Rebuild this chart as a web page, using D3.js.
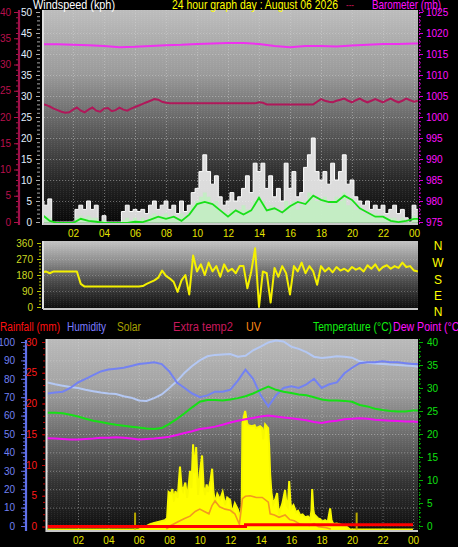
<!DOCTYPE html>
<html><head><meta charset="utf-8">
<script src="https://cdn.jsdelivr.net/npm/d3@7"></script>
<style>html,body{margin:0;padding:0;background:#000;overflow:hidden}</style>
</head><body>
<script>
// ---------------- DATA ----------------
const hourTicks = [2,4,6,8,10,12,14,16,18,20,22,24];
const hourLabels = ["02","04","06","08","10","12","14","16","18","20","22","00"];

// top chart, 15-minute samples starting at 00:00
const gust = [5,4,5.5,0, 0,0,0,0, 0,3,4,3, 5,3,4,0, 1.5,0,0,0, 0,2.5,4,2.5, 3,2.5,3,2, 4,5,3,4,
  5,3,4,2, 5,2.5,4,7, 8,12,16,12, 9,11,6,4, 5,7,5,6, 8,11,7,14, 12,14,8,11, 6,8,5,14,
  8,12,6,7, 13,16,20,12, 10,12,9,14, 10,12,16,9, 10,6,5,4, 5,3,4,3, 4,2,3,4, 2,3,1,0, 4,3];
const avgSpeed = [2,1.5,1,0, 0,0,0,0, 0,1,1.5,1, 1.5,1,1,0, 0.5,0,0,0, 0,0.5,1,0.5, 1,0.5,1,0.5,
  1.5,2,1,1.5, 2,1,1.5,0.5, 2,1,2,4, 5,6,7,6, 4,5,3,2, 2,3,2.5,3, 4,3,3,5, 6,5,3,4, 3,3,2,5,
  4,5,3,4, 5,7,6,5, 5,6,4,5, 6,5,7,4, 5,3,3,2, 2,1.5,2,1, 1.5,1,1,1, 0.5,1,0.5,0, 1.5,1];
// 30-minute samples
const avgLine = [2,0.5,0,0,0,1,0.5,0.3,0,0, 0,0,0.3,0.2,0.8,1.5,1,1.5,0.5,2,
  4.5,5,4.5,3,1.5,3,2,3,6,3, 3.5,2.5,4,5,4.5,6.5,5.5,5,5,6.5, 5.5,3.5,2.5,1.5,1.5,0.5,0.2,0.5,1,1];
// hourly barometer (mb)
const baro = [1017.3,1017.3,1017.2,1017.1,1016.9,1016.6,1016.7,1016.9,1017.1,1017.2,1017.4,1017.5,
  1017.6,1017.6,1017.4,1016.9,1016.6,1016.9,1016.9,1016.8,1017.0,1017.2,1017.4,1017.4,1017.5,1017.5];
// extra temp2 (°C), 15-minute samples
const extraTemp2 = [22.5,22.3,22.0,21.6, 21.3,21.0,20.8,20.9, 21.4,21.8,21.2,20.9, 21.4,21.8,21.2,21.0,
  21.6,21.7,21.1,21.3, 21.8,21.4,21.2,21.6, 21.9,22.2,22.5,22.8, 23.1,23.4,23.3,22.9,
  22.7,22.6,22.6,22.6, 22.6,22.6,22.6,22.6, 22.6,22.6,22.6,22.6, 22.6,22.6,22.6,22.6,
  22.6,22.6,22.6,22.6, 22.6,22.6,22.6,22.6, 22.8,22.7,22.4,22.4, 22.4,22.4,22.4,22.4,
  22.4,22.4,22.4,22.4, 22.4,22.4,22.4,22.9, 23.4,23.1,22.9,22.8, 23.1,23.3,23.5,23.1,
  22.8,23.2,23.5,23.1, 22.8,23.1,23.4,23.1, 22.8,23.2,23.5,23.1, 22.8,23.1,23.5,23.2, 22.9,23.1];
// wind direction (degrees), 15-minute samples
const windDir = [195,200,190,200, 200,200,200,200, 200,200,130,115, 115,115,115,115, 115,115,115,115,
  115,115,115,115, 115,115,118,130, 140,150,165,205, 175,160,140,85, 150,180,70,290,
  200,240,180,250, 200,230,170,240, 200,215,190,230, 230,105,200,330, 0,200,190,25,
  220,170,230,190, 70,230,200,250, 190,230,200,125, 230,200,220,195, 225,205,215,200,
  225,210,220,200, 235,215,240,205, 225,235,215,230, 220,250,225,230, 205,200];

// bottom chart, 30-minute samples
const humidity = [72,72.5,73,75,78,80,82,84,85,85.5, 86,87,88,88.5,89,88,84,78,75,72,
  70,71,73,73,74,79,85,80,71,65, 71,75,76,75,77,80,75,77,78,83, 86,88.5,89,89,89.5,89,89,88.5,88,88];
const indoorTemp = [31.2,30.8,30.5,30.2,30.0,29.6,29.3,29.0,28.8,28.7, 28.2,27.9,27.3,27.2,27.8,28.6,30.0,31.5,33.3,34.8,
  36.0,36.9,37.2,37.3,37.4,36.8,37.0,38.2,39.0,39.9, 40.3,40.1,39.0,38.5,37.8,36.8,36.5,36.7,36.9,36.8,
  36.6,35.8,35.5,35.3,35.2,35.1,35.0,34.9,34.8,34.5];
const temperature = [24.6,24.6,24.5,24.2,23.8,23.3,22.9,22.6,22.3,22.0, 21.8,21.6,21.4,21.2,21.1,21.3,22.2,23.3,24.5,25.8,
  27.0,27.4,27.4,27.3,27.5,27.8,28.2,28.8,29.6,30.3, 29.6,29.2,28.9,28.6,28.4,28.0,27.5,27.3,27.3,27.2,
  27.0,26.3,26.0,25.5,25.2,25.0,24.9,24.9,25.1,25.1];
const dewPoint = [19.1,19.0,18.9,18.8,18.8,18.9,19.0,19.2,19.2,19.3, 19.2,19.0,18.8,18.9,19.0,19.2,19.4,19.8,20.2,20.6,
  21.1,21.3,21.6,22.0,22.5,22.9,23.2,23.5,23.8,24.0, 23.8,23.6,23.4,23.2,23.0,22.6,22.4,22.7,22.9,23.2,
  23.3,23.4,23.3,23.1,23.0,22.9,22.8,22.7,22.7,22.6];
// hourly rainfall (mm)
const rainfall = [0,0,0,0,0,0,0,0,0,0,0,0,0,0.3,0.3,0.3,0.3,0.3,0.3,0.3,0.3,0.3,0.3,0.3,0.3];
// solar (W/m2) at irregular times
const solarHours = [0,6.0,6.3,6.7,7.0,7.4,7.7,7.85,7.95,8.1,8.2,8.3,8.4,8.55,8.7,8.8,8.9,9.05,9.17,9.3,9.36,9.45,9.56,9.65,9.76,9.85,9.89,
  10.0,10.15,10.25,10.35,10.45,10.55,10.7,10.81,10.9,11.0,11.15,11.33,11.5,11.66,11.8,11.99,12.12,12.3,12.52,12.65,12.75,
  12.8,12.98,13.1,13.17,13.44,13.6,13.7,13.96,14.1,14.16,14.29,14.49,14.55,14.62,14.7,14.82,14.95,15.08,15.15,15.21,15.3,
  15.41,15.5,15.6,15.7,15.78,15.87,15.95,16.0,16.15,16.33,16.45,16.59,16.75,16.92,17.1,17.25,17.33,17.38,17.45,17.51,
  17.65,17.77,17.9,18.04,18.23,18.4,18.56,18.65,18.76,19.0,19.22,19.61,19.87,24.0];
const solar = [0,0,10,27,35,43,49,60,200,190,216,150,205,170,335,230,205,250,168,260,313,220,454,300,440,250,184,
  300,395,230,184,240,200,260,324,200,140,190,160,200,130,170,157,86,140,103,60,120,
  567,632,570,556,551,556,540,551,540,481,560,540,450,297,200,135,160,194,120,76,110,
  135,170,211,130,120,259,150,113,130,92,100,76,80,65,70,54,100,216,110,81,
  70,59,55,43,50,40,113,50,30,32,27,16,0,0];
const solarMarkHours = [5.75, 20.3];
const solarMarks = [90, 90];
// UV index at irregular times
const uvHours = [7.8,8.1,8.7,9.0,9.36,9.7,10.0,10.3,10.6,10.8,11.0,11.3,11.66,12.0,12.3,12.6,12.8,13.0,13.3,13.7,14.1,
  14.5,14.62,14.9,15.2,15.6,15.9,16.2,16.6,17.2,17.5,17.8,18.3,18.6];
const uv = [0,0.3,0.7,0.9,1.1,1.5,1.7,1.5,1.3,2.0,2.4,1.9,1.7,1.6,1.3,0.4,2.6,2.8,2.85,2.7,2.7,
  2.3,1.3,1.2,1.0,1.2,0.8,0.7,0.4,0.3,0.45,0.2,0.1,0];

// ---------------- DRAWING ----------------
const W = 458, H = 547;
const FONT = "'Liberation Sans', Arial, sans-serif";
const svg = d3.select("body").append("svg").attr("width", W).attr("height", H)
  .style("display","block").style("background","#000").style("font-family", FONT);
svg.append("rect").attr("width",W).attr("height",H).attr("fill","#000");
const defs = svg.append("defs");
function grad(id, stops){
  const g = defs.append("linearGradient").attr("id",id).attr("x1",0).attr("y1",0).attr("x2",0).attr("y2",1);
  stops.forEach(([o,c]) => g.append("stop").attr("offset",o).attr("stop-color",c));
}
function clip(id,x,y,w,h){ defs.append("clipPath").attr("id",id).append("rect").attr("x",x).attr("y",y).attr("width",w).attr("height",h); }
grad("gTop", [[0,"#bdbdbd"],[0.3,"#9a9a9a"],[0.55,"#5e5e5e"],[0.8,"#262626"],[1,"#070707"]]);
grad("gMid", [[0,"#c4c4c4"],[0.3,"#8c8c8c"],[0.6,"#4a4a4a"],[1,"#0c0c0c"]]);
grad("gBot", [[0,"#bababa"],[0.25,"#a2a2a2"],[0.5,"#6c6c6c"],[0.75,"#333"],[1,"#0e0e0e"]]);
const pat = defs.append("pattern").attr("id","dots").attr("width",3).attr("height",2).attr("patternUnits","userSpaceOnUse");
pat.append("rect").attr("x",0).attr("y",0).attr("width",1).attr("height",1).attr("fill","rgba(255,255,255,0.07)");

const step = (arr, s) => arr.map((v,i) => [i*s, v]);

// ---- TOP CHART ----
const TOP = {x0:44, x1:418, y0:10, y1:224};
const xTop = d3.scaleLinear().domain([0,24]).range([42,414]);
const yWind = d3.scaleLinear().domain([0,50]).range([222,12]);
const yRed = d3.scaleLinear().domain([0,40]).range([222,12]);
const yBaro = d3.scaleLinear().domain([975,1025]).range([222,12]);
clip("cTop", TOP.x0, TOP.y0, TOP.x1-TOP.x0, TOP.y1-TOP.y0);
svg.append("rect").attr("x",TOP.x0).attr("y",TOP.y0).attr("width",TOP.x1-TOP.x0).attr("height",TOP.y1-TOP.y0).attr("fill","url(#gTop)");
svg.append("rect").attr("x",TOP.x0).attr("y",TOP.y0).attr("width",TOP.x1-TOP.x0).attr("height",TOP.y1-TOP.y0).attr("fill","url(#dots)");
const gTop = svg.append("g").attr("clip-path","url(#cTop)");
gTop.selectAll(".hg").data(d3.range(5,50,5)).join("line")
  .attr("x1",TOP.x0).attr("x2",TOP.x1).attr("y1",d=>yWind(d)+0.5).attr("y2",d=>yWind(d)+0.5)
  .attr("stroke","#d8d8d8").attr("stroke-opacity",0.45).attr("stroke-dasharray","1,2");
gTop.selectAll(".vg").data(hourTicks).join("line")
  .attr("x1",d=>xTop(d)+0.5).attr("x2",d=>xTop(d)+0.5).attr("y1",TOP.y0).attr("y2",TOP.y1)
  .attr("stroke","#d8d8d8").attr("stroke-opacity",0.45).attr("stroke-dasharray","1,2");

gTop.append("path").datum(step(gust,0.25))
  .attr("d", d3.area().x(d=>xTop(d[0])).y0(yWind(0)).y1(d=>yWind(d[1])).curve(d3.curveStep))
  .attr("fill","#f6f6f6").attr("fill-opacity",0.88);
gTop.append("path").datum(step(gust,0.25))
  .attr("d", d3.line().x(d=>xTop(d[0])).y(d=>yWind(d[1])).curve(d3.curveStep))
  .attr("fill","none").attr("stroke","#ffffff").attr("stroke-width",1);
gTop.append("path").datum(step(avgSpeed,0.25))
  .attr("d", d3.area().x(d=>xTop(d[0])).y0(yWind(0)+1).y1(d=>yWind(d[1])).curve(d3.curveStep))
  .attr("fill","#bff0bf").attr("fill-opacity",0.85);
gTop.append("path").datum(step(avgLine,0.5))
  .attr("d", d3.line().x(d=>xTop(d[0])).y(d=>yWind(d[1])+1).curve(d3.curveLinear))
  .attr("fill","none").attr("stroke","#19e019").attr("stroke-width",1.8);
gTop.append("path").datum(step(extraTemp2,0.25))
  .attr("d", d3.line().x(d=>xTop(d[0])).y(d=>yRed(d[1])))
  .attr("fill","none").attr("stroke","#b0185a").attr("stroke-width",2);
gTop.append("path").datum(step(baro,1))
  .attr("d", d3.line().x(d=>xTop(d[0])).y(d=>yBaro(d[1])))
  .attr("fill","none").attr("stroke","#f030f0").attr("stroke-width",2);
// borders
svg.append("line").attr("x1",43).attr("x2",43).attr("y1",TOP.y0).attr("y2",TOP.y1+1).attr("stroke","#e0e0e0").attr("stroke-width",2);
svg.append("line").attr("x1",43).attr("x2",TOP.x1).attr("y1",TOP.y1).attr("y2",TOP.y1).attr("stroke","#c8c8c8").attr("stroke-width",2);

function styleAxis(g, color, labelColor){
  g.select(".domain").remove();
  g.selectAll(".tick line").attr("stroke", color);
  g.selectAll(".tick text").attr("fill", labelColor || color).style("font-family", FONT).style("font-size","10px");
}
function minorMajor(axisFn, scale, x, minors, majors, minSize, majSize, pad, color, labelColor){
  const a1 = svg.append("g").attr("transform",`translate(${x},0)`)
    .call(axisFn(scale).tickValues(minors).tickSize(minSize).tickFormat(""));
  styleAxis(a1, color);
  const a2 = svg.append("g").attr("transform",`translate(${x},0)`)
    .call(axisFn(scale).tickValues(majors).tickSize(majSize).tickPadding(pad).tickFormat(d3.format("d")));
  styleAxis(a2, color, labelColor);
  return a2;
}
// extra temp2 axis (crimson)
svg.append("line").attr("x1",19).attr("x2",19).attr("y1",10).attr("y2",225).attr("stroke","#a0104a").attr("stroke-width",2.2);
minorMajor(d3.axisLeft, yRed, 18, d3.range(0,41,1), d3.range(0,41,5), 2, 4, 3, "#b0104a", "#b8104c");
// windspeed axis
minorMajor(d3.axisLeft, yWind, 40, d3.range(0,51,1), d3.range(0,51,5), 3, 4, 4, "#a8a8a8", "#e2f0ff");
// barometer axis
svg.append("line").attr("x1",419.5).attr("x2",419.5).attr("y1",10).attr("y2",224).attr("stroke","#d000d0").attr("stroke-dasharray","1,2");
minorMajor(d3.axisRight, yBaro, 419, d3.range(975,1026,1), d3.range(975,1026,5), 2, 4, 3, "#d000d0", "#ff10ff");
// top x axis labels
const axXTop = svg.append("g").attr("transform","translate(0,226)")
  .call(d3.axisBottom(xTop).tickValues(hourTicks).tickFormat((d,i)=>hourLabels[i]).tickSize(0).tickPadding(4));
styleAxis(axXTop, "#000", "#e4e400");

// ---- MIDDLE CHART (wind direction) ----
const MID = {x0:44, x1:418, y0:241, y1:309};
const yDir = d3.scaleLinear().domain([0,360]).range([307,243]);
clip("cMid", MID.x0, MID.y0, MID.x1-MID.x0, MID.y1-MID.y0);
svg.append("rect").attr("x",MID.x0).attr("y",MID.y0).attr("width",MID.x1-MID.x0).attr("height",MID.y1-MID.y0).attr("fill","url(#gMid)");
svg.append("rect").attr("x",MID.x0).attr("y",MID.y0).attr("width",MID.x1-MID.x0).attr("height",MID.y1-MID.y0).attr("fill","url(#dots)");
const gMid = svg.append("g").attr("clip-path","url(#cMid)");
gMid.selectAll(".hg").data([90,180,270]).join("line")
  .attr("x1",MID.x0).attr("x2",MID.x1).attr("y1",d=>yDir(d)+0.5).attr("y2",d=>yDir(d)+0.5)
  .attr("stroke","#d0d0d0").attr("stroke-opacity",0.35).attr("stroke-dasharray","1,2");
gMid.append("path").datum(step(windDir,0.25))
  .attr("d", d3.line().x(d=>xTop(d[0])).y(d=>yDir(d[1])))
  .attr("fill","none").attr("stroke","#f4f000").attr("stroke-width",2).attr("stroke-linejoin","round");
svg.append("line").attr("x1",43).attr("x2",43).attr("y1",MID.y0).attr("y2",MID.y1).attr("stroke","#e0e0e0").attr("stroke-width",2);
svg.append("line").attr("x1",43).attr("x2",MID.x1).attr("y1",MID.y1).attr("y2",MID.y1).attr("stroke","#c8c8c8").attr("stroke-width",2);
minorMajor(d3.axisLeft, yDir, 41, d3.range(0,361,18), [0,90,180,270,360], 2, 4, 4, "#b8c800", "#ccd820");
const compass = ["N","W","S","E","N"];
svg.selectAll(".cmp").data(compass).join("text")
  .attr("x",438).attr("y",(d,i)=>[249.5,266.5,283.5,299.5,315.5][i])
  .attr("text-anchor","middle").attr("fill","#ffff00").style("font-size","12px").text(d=>d);

// ---- BOTTOM CHART ----
const BOT = {x0:47, x1:418, y0:339, y1:531};
const xBot = d3.scaleLinear().domain([0,24]).range([47.5,413]);
const yHum = d3.scaleLinear().domain([0,100]).range([526,342]);
const yRain = d3.scaleLinear().domain([0,30]).range([526.5,342]);
const yTemp = d3.scaleLinear().domain([0,40]).range([526,342]);
const ySolar = d3.scaleLinear().domain([0,1000]).range([529.5,342]);
const yUV = d3.scaleLinear().domain([0,16]).range([529,342]);
clip("cBot", BOT.x0, BOT.y0, BOT.x1-BOT.x0, BOT.y1-BOT.y0);
svg.append("rect").attr("x",BOT.x0).attr("y",BOT.y0).attr("width",BOT.x1-BOT.x0).attr("height",BOT.y1-BOT.y0).attr("fill","url(#gBot)");
svg.append("rect").attr("x",BOT.x0).attr("y",BOT.y0).attr("width",BOT.x1-BOT.x0).attr("height",BOT.y1-BOT.y0).attr("fill","url(#dots)");
const gBot = svg.append("g").attr("clip-path","url(#cBot)");
gBot.selectAll(".hg").data(d3.range(10,100,10)).join("line")
  .attr("x1",BOT.x0).attr("x2",BOT.x1).attr("y1",d=>yHum(d)+0.5).attr("y2",d=>yHum(d)+0.5)
  .attr("stroke","#d8d8d8").attr("stroke-opacity",0.45).attr("stroke-dasharray","1,2");
gBot.selectAll(".vg").data(hourTicks).join("line")
  .attr("x1",d=>xBot(d)+0.5).attr("x2",d=>xBot(d)+0.5).attr("y1",BOT.y0).attr("y2",BOT.y1)
  .attr("stroke","#d8d8d8").attr("stroke-opacity",0.45).attr("stroke-dasharray","1,2");
const solarPts = solarHours.map((h,i)=>[h, solar[i]]);
gBot.append("path").datum(solarPts)
  .attr("d", d3.area().x(d=>xBot(d[0])).y0(ySolar(0)+1).y1(d=>ySolar(d[1])))
  .attr("fill","#ffff00");
gBot.append("path").datum(solarPts)
  .attr("d", d3.line().x(d=>xBot(d[0])).y(d=>ySolar(d[1])))
  .attr("fill","none").attr("stroke","#f8f800").attr("stroke-width",2);
gBot.selectAll(".smark").data(solarMarkHours).join("line")
  .attr("x1",d=>xBot(d)).attr("x2",d=>xBot(d)).attr("y1",ySolar(0)).attr("y2",(d,i)=>ySolar(solarMarks[i]))
  .attr("stroke","#b8a800").attr("stroke-width",2);
gBot.append("path").datum(uvHours.map((h,i)=>[h,uv[i]]))
  .attr("d", d3.line().x(d=>xBot(d[0])).y(d=>yUV(d[1])))
  .attr("fill","none").attr("stroke","#f39a1e").attr("stroke-width",1.6);
gBot.append("path").datum(step(rainfall,1))
  .attr("d", d3.line().x(d=>xBot(d[0])).y(d=>yRain(d[1])).curve(d3.curveStepAfter))
  .attr("fill","none").attr("stroke","#ff0000").attr("stroke-width",3);
const lineB = (arr, sc) => d3.line().x(d=>xBot(d[0])).y(d=>sc(d[1]))(step(arr,0.5));
gBot.append("path").attr("d", lineB(indoorTemp, yTemp)).attr("fill","none").attr("stroke","#b4c8f4").attr("stroke-width",2);
gBot.append("path").attr("d", lineB(humidity, yHum)).attr("fill","none").attr("stroke","#7382f2").attr("stroke-width",2);
gBot.append("path").attr("d", lineB(temperature, yTemp)).attr("fill","none").attr("stroke","#16e016").attr("stroke-width",2);
gBot.append("path").attr("d", lineB(dewPoint, yTemp)).attr("fill","none").attr("stroke","#f010f0").attr("stroke-width",2);
svg.append("line").attr("x1",46.5).attr("x2",46.5).attr("y1",BOT.y0).attr("y2",BOT.y1+1).attr("stroke","#e0e0e0").attr("stroke-width",2);
svg.append("line").attr("x1",46).attr("x2",BOT.x1).attr("y1",BOT.y1).attr("y2",BOT.y1).attr("stroke","#c8c8c8").attr("stroke-width",2);
// humidity axis
svg.append("line").attr("x1",26).attr("x2",26).attr("y1",340).attr("y2",531).attr("stroke","#6070e8").attr("stroke-width",2.2);
minorMajor(d3.axisLeft, yHum, 25, d3.range(0,101,2), d3.range(0,101,10), 2, 4, 6, "#6070e8", "#7080f4");
// rainfall axis
minorMajor(d3.axisLeft, yRain, 45, d3.range(0,31,1), d3.range(0,31,5), 2, 3, 5, "#c00000", "#ff1a1a");
// temperature axis
svg.append("line").attr("x1",419.5).attr("x2",419.5).attr("y1",339).attr("y2",531).attr("stroke","#00b000").attr("stroke-dasharray","1,2");
minorMajor(d3.axisRight, yTemp, 419, d3.range(0,41,1), d3.range(0,41,5), 2, 4, 4, "#00b000", "#10e010");
const axXBot = svg.append("g").attr("transform","translate(0,533)")
  .call(d3.axisBottom(xBot).tickValues(hourTicks).tickFormat((d,i)=>hourLabels[i]).tickSize(0).tickPadding(4));
styleAxis(axXBot, "#000", "#e4e400");

// ---- HEADERS ----
const headTop = [
  {t:"Windspeed (kph)", x:33, w:82, c:"#ffffff"},
  {t:"24 hour graph day : August 06 2026", x:172, w:166, c:"#ffff00"},
  {t:"---", x:346, w:8, c:"#b01048"},
  {t:"Barometer (mb)", x:372, w:69, c:"#ff10ff"}
];
svg.selectAll(".ht").data(headTop).join("text")
  .attr("x",d=>d.x).attr("y",9).attr("fill",d=>d.c).attr("textLength",d=>d.w).attr("lengthAdjust","spacingAndGlyphs")
  .style("font-size","13px").text(d=>d.t);
const headBot = [
  {t:"Rainfall (mm)", x:0, w:60, c:"#ff1010"},
  {t:"Humidity", x:67, w:39, c:"#7b7bff"},
  {t:"Solar", x:117, w:24, c:"#a8a000"},
  {t:"Extra temp2", x:173, w:60, c:"#c8185c"},
  {t:"UV", x:246, w:15, c:"#ff8a10"},
  {t:"Temperature (°C)", x:313, w:79, c:"#10f010"},
  {t:"Dew Point (°C)", x:393, w:70, c:"#ff10ff"}
];
svg.selectAll(".hb").data(headBot).join("text")
  .attr("x",d=>d.x).attr("y",331).attr("fill",d=>d.c).attr("textLength",d=>d.w).attr("lengthAdjust","spacingAndGlyphs")
  .style("font-size","12.5px").text(d=>d.t);
</script>
</body></html>
